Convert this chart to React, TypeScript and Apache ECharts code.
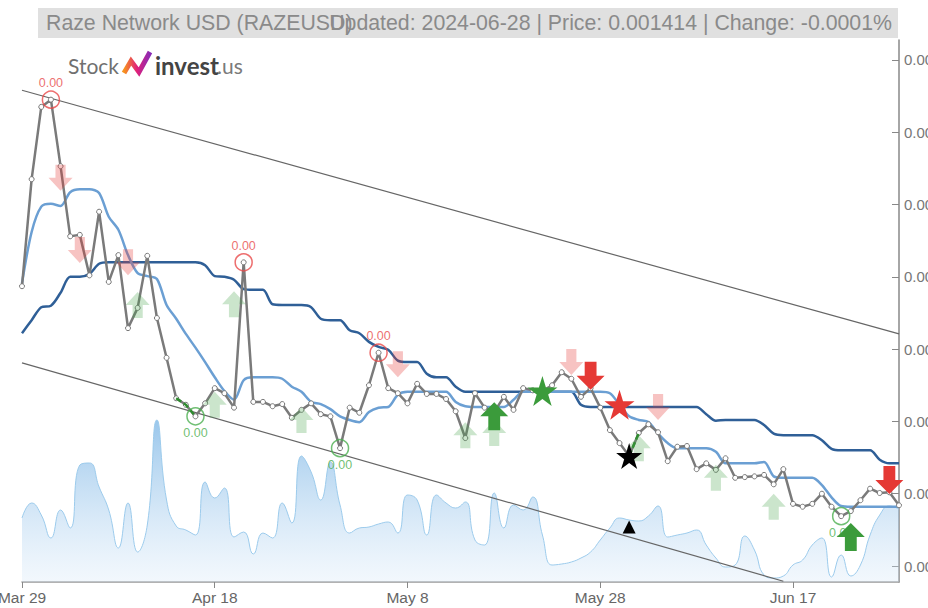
import React, { useEffect, useRef } from "react";
import * as echarts from "echarts";

const MONTHS = ["Jan", "Feb", "Mar", "Apr", "May", "Jun", "Jul", "Aug", "Sep", "Oct", "Nov", "Dec"];
const dates: string[] = [];
for (let i = 0; i < 92; i++) {
  const d = new Date(Date.UTC(2024, 2, 29 + i));
  dates.push(`${MONTHS[d.getUTCMonth()]} ${d.getUTCDate()}`);
}

const price = [
  0.001717, 0.001865, 0.001965, 0.001975, 0.001883, 0.001786, 0.001788, 0.001732, 0.00182, 0.001723,
  0.00176, 0.001659, 0.001687, 0.001759, 0.001673, 0.001618, 0.001562, 0.001553, 0.001537, 0.001555,
  0.001576, 0.001569, 0.001549, 0.00175, 0.001557, 0.001557, 0.001551, 0.001554, 0.001535, 0.001546,
  0.001555, 0.00154, 0.001537, 0.001493, 0.001549, 0.001542, 0.00158, 0.001625, 0.001576, 0.001569,
  0.001555, 0.001582, 0.001568, 0.001568, 0.001561, 0.001544, 0.001507, 0.001569, 0.001549, 0.001543,
  0.001564, 0.001546, 0.001576, 0.001573, 0.001572, 0.00158, 0.001598, 0.001589, 0.001564, 0.001576,
  0.001549, 0.001518, 0.0015, 0.001482, 0.001514, 0.001526, 0.001515, 0.001475, 0.001495, 0.001496,
  0.001464, 0.001472, 0.001463, 0.001479, 0.001452, 0.001453, 0.001454, 0.001456, 0.001443, 0.001464,
  0.001416, 0.001412, 0.001416, 0.00143, 0.001412, 0.001399, 0.001406, 0.001421, 0.001437, 0.001431,
  0.001432, 0.001414,
];

const maShort = [
  0.001721, 0.001792, 0.001827, 0.001831, 0.001828, 0.001847, 0.001851, 0.001851, 0.001846, 0.001813,
  0.001795, 0.00176, 0.001735, 0.001731, 0.001727, 0.001691, 0.001672, 0.001651, 0.001632, 0.001612,
  0.001591, 0.001572, 0.00156, 0.001587, 0.001591, 0.001591, 0.001591, 0.001589, 0.001578, 0.001571,
  0.001557, 0.001554, 0.001547, 0.001537, 0.001532, 0.001529, 0.001543, 0.001549, 0.00155, 0.001567,
  0.001571, 0.001571, 0.001571, 0.001571, 0.001571, 0.001557, 0.001551, 0.00155, 0.00155, 0.00155,
  0.00155, 0.00156, 0.001571, 0.001571, 0.001571, 0.001571, 0.001571, 0.001571, 0.001571, 0.001571,
  0.001571, 0.001569, 0.001553, 0.001537, 0.001532, 0.001529, 0.001513, 0.0015, 0.001493, 0.001493,
  0.001493, 0.001493, 0.001488, 0.001472, 0.001472, 0.001472, 0.001472, 0.001474, 0.001454, 0.001452,
  0.001452, 0.001452, 0.001452, 0.001442, 0.001425, 0.001413, 0.001412, 0.001412, 0.001412, 0.001412,
  0.001412, 0.001412,
];

const maLong = [
  0.001652, 0.00167, 0.001688, 0.00169, 0.001708, 0.00173, 0.00173, 0.001734, 0.001748, 0.00175,
  0.00175, 0.00175, 0.00175, 0.00175, 0.00175, 0.00175, 0.00175, 0.00175, 0.00175, 0.001746,
  0.001731, 0.00173, 0.001726, 0.001713, 0.001712, 0.001712, 0.001692, 0.001691, 0.001691, 0.001691,
  0.001688, 0.001672, 0.00167, 0.00167, 0.001656, 0.001652, 0.00164, 0.001633, 0.001629, 0.001614,
  0.001612, 0.001612, 0.001596, 0.001591, 0.001591, 0.001578, 0.001571, 0.001571, 0.001571, 0.001571,
  0.001571, 0.001571, 0.001571, 0.001571, 0.001571, 0.001571, 0.001571, 0.001571, 0.001553, 0.00155,
  0.00155, 0.00155, 0.00155, 0.00155, 0.00155, 0.00155, 0.00155, 0.00155, 0.00155, 0.00155,
  0.00155, 0.00154, 0.001531, 0.001532, 0.001532, 0.001532, 0.001532, 0.001525, 0.001513, 0.001511,
  0.001511, 0.001511, 0.001511, 0.001504, 0.001492, 0.00149, 0.00149, 0.00149, 0.00149, 0.001477,
  0.001472, 0.001472,
];

const volume = [
  640, 790, 670, 440, 720, 540, 1170, 1190, 950, 720,
  340, 790, 300, 570, 1620, 820, 560, 520, 470, 1000,
  840, 940, 450, 500, 280, 490, 440, 790, 590, 1260,
  1100, 820, 1200, 770, 490, 540, 550, 580, 600, 490,
  870, 820, 470, 870, 790, 740, 800, 420, 370, 890,
  540, 770, 720, 850, 470, 170, 180, 200, 240, 300,
  420, 540, 640, 620, 610, 660, 760, 450, 470, 490,
  520, 370, 240, 150, 170, 460, 320, 70, 40, 60,
  170, 220, 370, 440, 50, 270, 60, 170, 470, 670,
  760, 730,
];

const priceTicks = [0.00133, 0.00143, 0.00153, 0.00163, 0.00173, 0.00183, 0.00193, 0.00203];

const upperTrend = [[0, 0.001988], [91, 0.001651]];
const lowerTrend = [[0, 0.001611], [79, 0.001309]];

const highMarks = [3, 23, 37];
const lowMarks = [18, 33, 85];
const greenSegments = [[16, 18], [63, 64]];

const lightDown = [[4, 0.001867], [6, 0.001767], [11, 0.00175], [39, 0.001609], [57, 0.001612], [66, 0.00155]];
const strongDown = [[59, 0.001593], [90, 0.001449]];
const lightUp = [[12, 0.001691], [20, 0.001553], [22, 0.001692], [29, 0.001532], [46, 0.001511], [49, 0.001514], [64, 0.001493], [72, 0.001452], [78, 0.001412]];
const strongUp = [[49, 0.001537], [86, 0.00137]];
const redStar = [[62, 0.001553]];
const greenStar = [[54, 0.001572]];
const blackStar = [[63, 0.001482]];
const blackTriangle = [[63, 0.001384]];

const UP = "path://M13,0L26,14L18.5,14L18.5,28L7.5,28L7.5,14L0,14Z";
const DOWN = "path://M7.5,0L18.5,0L18.5,14L26,14L13,28L0,14L7.5,14Z";
const STAR = "path://M50,0L61.2,34.5L97.6,34.5L68.2,55.9L79.4,90.5L50,69.1L20.6,90.5L31.8,55.9L2.4,34.5L38.8,34.5Z";

const FONT = "Liberation Sans";

export default function App() {
  const ref = useRef<HTMLDivElement>(null);
  useEffect(() => {
    if (!ref.current) return;
    const chart = echarts.init(ref.current, undefined, { renderer: "svg" });

    const scatter = (data: number[][], symbol: string, size: any, color: string, opacity = 1, z = 10) => ({
      type: "scatter",
      data,
      symbol,
      symbolSize: size,
      itemStyle: { color, opacity },
      z,
      silent: true,
    });

    const option: any = {
      animation: false,
      backgroundColor: "#ffffff",
      textStyle: { fontFamily: FONT },
      grid: { left: 22, right: 29, top: 40, bottom: 26, containLabel: false, outerBoundsMode: "none" },
      xAxis: {
        type: "category",
        data: dates,
        boundaryGap: false,
        axisLine: { lineStyle: { color: "#999", width: 1.5 } },
        axisTick: { interval: 19, length: 6, lineStyle: { color: "#888" } },
        axisLabel: { interval: 19, color: "#666", fontSize: 15.5, margin: 7, fontFamily: FONT },
        splitLine: { show: false },
      },
      yAxis: [
        {
          type: "value",
          position: "right",
          min: 0.0013079,
          max: 0.0020575,
          axisLine: { show: true, lineStyle: { color: "#888", width: 1.5 } },
          axisTick: { show: true, inside: true, length: 7, customValues: priceTicks, lineStyle: { color: "#888" } },
          axisLabel: {
            customValues: priceTicks,
            formatter: (v: number) => v.toFixed(2),
            color: "#777",
            fontSize: 15,
            margin: 5,
            fontFamily: FONT,
          },
          splitLine: { show: false },
        },
        {
          type: "value",
          min: 0,
          max: 5420,
          show: false,
          splitLine: { show: false },
        },
      ],
      graphic: [
        { type: "rect", shape: { x: 38, y: 8, width: 860, height: 30 }, style: { fill: "#e0e0e0" }, z: 100 },
        {
          type: "text",
          x: 46,
          y: 23,
          style: { text: "Raze Network USD (RAZEUSD)", fill: "#8a8a8a", fontSize: 21.3, fontFamily: FONT, verticalAlign: "middle", align: "left" },
          z: 101,
        },
        {
          type: "text",
          x: 892,
          y: 23,
          style: { text: "Updated: 2024-06-28 | Price: 0.001414 | Change: -0.0001%", fill: "#8a8a8a", fontSize: 21.3, fontFamily: FONT, verticalAlign: "middle", align: "right" },
          z: 101,
        },
        {
          type: "text",
          x: 68,
          y: 65,
          style: { text: "Stock", fill: "#707070", fontSize: 21, fontFamily: "Lato", verticalAlign: "middle" },
          z: 101,
        },
        {
          type: "polyline",
          shape: { points: [[124, 73], [131, 61], [139, 72], [150, 52]] },
          style: {
            stroke: new echarts.graphic.LinearGradient(0, 0, 1, 0, [
              { offset: 0, color: "#f7941d" },
              { offset: 0.5, color: "#e0207a" },
              { offset: 1, color: "#8a2bb5" },
            ]),
            lineWidth: 5,
            fill: "none",
            lineJoin: "miter",
          },
          z: 101,
        },
        {
          type: "text",
          x: 155,
          y: 65,
          style: { text: "invest", fill: "#444444", fontSize: 24, fontWeight: "bold", fontFamily: "Lato", verticalAlign: "middle" },
          z: 101,
        },
        {
          type: "text",
          x: 217,
          y: 65,
          style: { text: ".us", fill: "#7a7a7a", fontSize: 21, fontFamily: "Lato", verticalAlign: "middle" },
          z: 101,
        },
      ],
      series: [
        {
          type: "line",
          yAxisIndex: 1,
          data: volume,
          smooth: 0.5,
          symbol: "none",
          lineStyle: { color: "#9ccbec", width: 1 },
          areaStyle: {
            color: new echarts.graphic.LinearGradient(0, 0, 0, 1, [
              { offset: 0, color: "rgba(85,160,222,0.85)" },
              { offset: 1, color: "rgba(215,232,248,0.45)" },
            ]),
          },
          z: 1,
          silent: true,
        },
        {
          type: "line",
          data: upperTrend,
          symbol: "none",
          lineStyle: { color: "#666", width: 1.2 },
          z: 2,
          silent: true,
        },
        {
          type: "line",
          data: lowerTrend,
          symbol: "none",
          lineStyle: { color: "#666", width: 1.2 },
          z: 2,
          silent: true,
        },
        {
          type: "line",
          data: maLong,
          symbol: "none",
          smooth: 0.3,
          lineStyle: { color: "#2f5f97", width: 2.5 },
          z: 3,
          silent: true,
        },
        {
          type: "line",
          data: maShort,
          symbol: "none",
          smooth: 0.3,
          lineStyle: { color: "#6b9fd3", width: 2.5 },
          z: 3,
          silent: true,
        },
        {
          type: "line",
          data: price,
          symbol: "circle",
          symbolSize: 5,
          itemStyle: { color: "#ffffff", borderColor: "#777", borderWidth: 1 },
          lineStyle: { color: "#7a7a7a", width: 2.5 },
          z: 4,
          silent: true,
        },
        ...greenSegments.map(([a, b]) => ({
          type: "line",
          data: price.slice(a, b + 1).map((v, k) => [a + k, v]),
          symbol: "none",
          lineStyle: { color: "#2e8b2e", width: 2.5, type: [6, 3] },
          z: 5,
          silent: true,
        })),
        {
          type: "scatter",
          data: highMarks.map((i) => [i, price[i]]),
          symbol: "circle",
          symbolSize: 17,
          itemStyle: { color: "rgba(0,0,0,0)", borderColor: "#e84a4a", borderWidth: 1.5 },
          label: { show: true, position: "top", distance: 1, formatter: (p: any) => p.value[1].toFixed(2), color: "#e84a4a", fontSize: 12.5, fontFamily: FONT },
          z: 6,
          silent: true,
        },
        {
          type: "scatter",
          data: lowMarks.map((i) => [i, price[i]]),
          symbol: "circle",
          symbolSize: 17,
          itemStyle: { color: "rgba(0,0,0,0)", borderColor: "#4caf50", borderWidth: 1.5 },
          label: { show: true, position: "bottom", distance: 1, formatter: (p: any) => p.value[1].toFixed(2), color: "#4caf50", fontSize: 12.5, fontFamily: FONT },
          z: 6,
          silent: true,
        },
        scatter(lightDown, DOWN, [24, 26], "#e53935", 0.3, 7),
        scatter(lightUp, UP, [24, 26], "#43a047", 0.28, 7),
        scatter(strongDown, DOWN, [28, 28], "#e53935", 1, 8),
        scatter(strongUp, UP, [28, 28], "#3b9b3b", 1, 8),
        scatter(redStar, STAR, 30, "#e53935", 1, 8),
        scatter(greenStar, STAR, 30, "#3b9b3b", 1, 8),
        scatter(blackStar, STAR, 26, "#000000", 1, 8),
        scatter(blackTriangle, "triangle", 13, "#000000", 1, 8),
      ],
    };

    chart.setOption(option);
    return () => chart.dispose();
  }, []);

  return <div ref={ref} style={{ position: "fixed", left: 0, top: 0, width: 928, height: 608 }} />;
}
